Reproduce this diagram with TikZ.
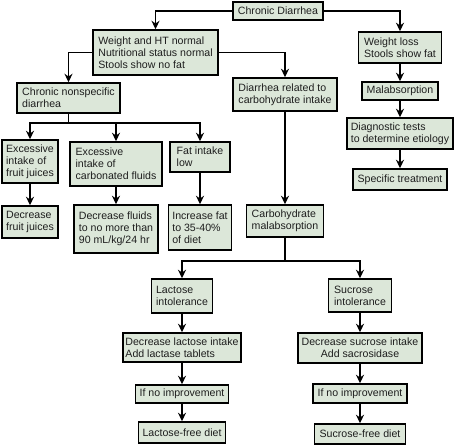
\documentclass[tikz,border=0pt]{standalone}
\usepackage{fontspec}
\setmainfont{Liberation Sans}
\usetikzlibrary{arrows.meta}
\definecolor{sage}{RGB}{220,231,217}
\definecolor{ink}{RGB}{30,30,30}
\tikzset{
  >={Stealth[length=8.5pt,width=8pt]},
  box/.style={draw=black,fill=sage,line width=1.5pt,text=ink,inner sep=0pt,
    align=left,font=\fontsize{10.6}{12}\selectfont},
  flow/.style={->,line width=1.6pt,draw=black},
  link/.style={line width=1.6pt,draw=black},
}
\begin{document}
\begin{tikzpicture}[x=1pt,y=-1pt]
    \useasboundingbox (0,0) rectangle (455,445);
    % top
    \node[box,minimum width=90pt,minimum height=18pt] (cd) at (278,11) {Chronic Diarrhea};
    \node[box,minimum width=125pt,minimum height=45pt] (wt) at (155.5,52.5) {Weight and HT normal\\Nutritional status normal\\Stools show no fat};
    % malabsorption side
    \node[box,minimum width=83pt,minimum height=31pt] (wl) at (400,47.5) {Weight loss\\Stools show fat};
    \node[box,minimum width=76pt,minimum height=18pt] (ma) at (400,91) {Malabsorption};
    \node[box,minimum width=106pt,minimum height=31pt] (dt) at (400,133.5) {Diagnostic tests\\to determine etiology};
    \node[box,minimum width=94pt,minimum height=21pt] (sp) at (400,179.5) {Specific treatment};
    % nonspecific side
    \node[box,minimum width=103pt,minimum height=30pt] (cn) at (68.5,98) {Chronic nonspecific\\diarrhea};
    \node[box,minimum width=56pt,minimum height=43pt] (fj) at (30,161.5) {Excessive\\intake of\\fruit juices};
    \node[box,minimum width=92pt,minimum height=44pt] (cf) at (116,164) {Excessive\\intake of\\carbonated fluids};
    \node[box,minimum width=60pt,minimum height=30pt] (fl) at (200,157) {Fat intake\\low};
    \node[box,minimum width=56pt,minimum height=32pt] (df) at (30,222) {Decrease\\fruit juices};
    \node[box,minimum width=84pt,minimum height=48pt] (dl) at (116,229) {Decrease fluids\\to no more than\\90 mL/kg/24 hr};
    \node[box,minimum width=63pt,minimum height=45pt] (if) at (200,227.5) {Increase fat\\to 35-40\%\\of diet};
    % carbohydrate side
    \node[box,minimum width=104pt,minimum height=33pt] (dr) at (285,94.5) {Diarrhea related to\\carbohydrate intake};
    \node[box,minimum width=77pt,minimum height=32pt] (cm) at (285,221) {Carbohydrate\\malabsorption};
    \node[box,minimum width=61pt,minimum height=34pt] (li) at (182,296) {Lactose\\intolerance};
    \node[box,minimum width=118pt,minimum height=29pt] (dla) at (182,347.5) {Decrease lactose intake\\Add lactase tablets};
    \node[box,minimum width=93pt,minimum height=18pt] (ni1) at (182,394) {If no improvement};
    \node[box,minimum width=87pt,minimum height=21pt] (lf) at (182,432.5) {Lactose-free diet};
    \node[box,minimum width=63pt,minimum height=33pt] (si) at (360,295.5) {Sucrose\\intolerance};
    \node[box,align=center,minimum width=124pt,minimum height=30pt] (dsu) at (360,348) {Decrease sucrose intake\\Add sacrosidase};
    \node[box,minimum width=94pt,minimum height=19pt] (ni2) at (360,393.5) {If no improvement};
    \node[box,minimum width=91pt,minimum height=20pt] (sf) at (360,434) {Sucrose-free diet};
    % connectors
    \draw[flow] (cd.west) -| (wt.north);
    \draw[flow] (cd.east) -| (wl.north);
    \draw[flow] (wt.west) -| (cn.north);
    \draw[flow] (wt.east) -| (dr.north);
    \draw[flow] (wl) -- (ma);
    \draw[flow] (ma) -- (dt);
    \draw[flow] (dt) -- (sp);
    \coordinate (bus1) at ([yshift=-9pt]cn.south);
    \draw[link] (cn.south) -- (bus1);
    \draw[flow] (bus1) -| (fj.north);
    \draw[flow] (bus1) -| (cf.north);
    \draw[flow] (bus1) -| (fl.north);
    \draw[flow] (fj) -- (df);
    \draw[flow] (cf) -- (dl);
    \draw[flow] (fl) -- (if);
    \draw[flow] (dr) -- (cm);
    \coordinate (bus2) at ([yshift=-23pt]cm.south);
    \draw[link] (cm.south) -- (bus2);
    \draw[flow] (bus2) -| (li.north);
    \draw[flow] (bus2) -| (si.north);
    \draw[flow] (li) -- (dla);
    \draw[flow] (dla) -- (ni1);
    \draw[flow] (ni1) -- (lf);
    \draw[flow] (si) -- (dsu);
    \draw[flow] (dsu) -- (ni2);
    \draw[flow] (ni2) -- (sf);
  \end{tikzpicture}
\end{document}
